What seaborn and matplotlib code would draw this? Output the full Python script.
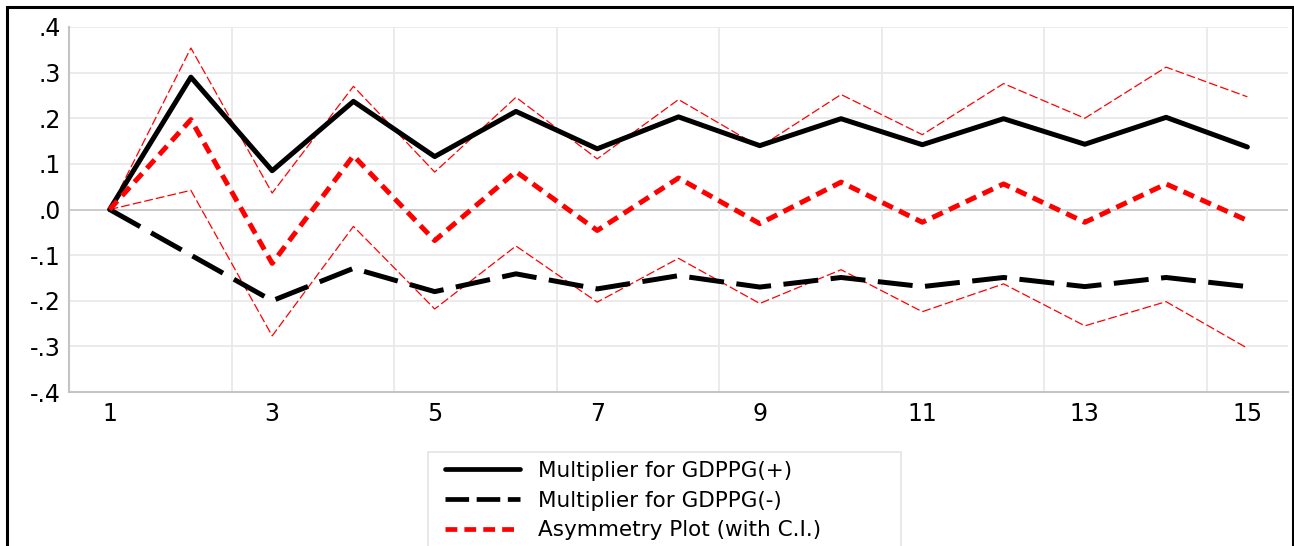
import matplotlib
matplotlib.use("Agg")
import matplotlib.pyplot as plt
import seaborn as sns
import pandas as pd
from matplotlib.patches import Rectangle
from matplotlib.lines import Line2D

periods = list(range(1, 16))
mult_pos = [0.0, 0.290, 0.085, 0.237, 0.116, 0.215, 0.133, 0.203, 0.140, 0.199, 0.142, 0.199, 0.143, 0.202, 0.137]
mult_neg = [0.0, -0.100, -0.200, -0.129, -0.180, -0.141, -0.174, -0.145, -0.170, -0.149, -0.169, -0.149, -0.169, -0.149, -0.169]
asym = [0.0, 0.197, -0.118, 0.118, -0.068, 0.083, -0.046, 0.069, -0.031, 0.060, -0.028, 0.056, -0.028, 0.056, -0.024]
ci_upper = [0.0, 0.354, 0.036, 0.270, 0.082, 0.246, 0.111, 0.241, 0.137, 0.252, 0.164, 0.276, 0.200, 0.312, 0.247]
ci_lower = [0.0, 0.042, -0.277, -0.037, -0.218, -0.080, -0.203, -0.107, -0.206, -0.132, -0.224, -0.163, -0.255, -0.202, -0.304]

legend_labels = ["Multiplier for GDPPG(+)", "Multiplier for GDPPG(-)", "Asymmetry Plot (with C.I.)"]
y_ticks = [-0.4, -0.3, -0.2, -0.1, 0.0, 0.1, 0.2, 0.3, 0.4]
y_tick_labels = ["-.4", "-.3", "-.2", "-.1", ".0", ".1", ".2", ".3", ".4"]
x_ticks = [1, 3, 5, 7, 9, 11, 13, 15]

sns.set_theme(style="white")
plt.rcParams['font.family'] = ['DejaVu Sans']

df = pd.DataFrame({"period": periods, "pos": mult_pos, "neg": mult_neg,
                   "asym": asym, "up": ci_upper, "lo": ci_lower})

fig = plt.figure(figsize=(12.94, 5.46), dpi=100)
ax = fig.add_axes([69/1294, 1-392/546, (1288-69)/1294, (392-27)/546])

# grid
for yv in y_ticks:
    ax.axhline(yv, color="#c4c4c4" if yv == 0 else "#e8e8e8", lw=1.2, zorder=0)
for xv in [2.5, 4.5, 6.5, 8.5, 10.5, 12.5, 14.5]:
    ax.axvline(xv, color="#e8e8e8", lw=1.2, zorder=0)

sns.lineplot(data=df, x="period", y="up", ax=ax, color="red", lw=0.9, zorder=2)
ax.lines[-1].set_dashes([7, 2.5])
sns.lineplot(data=df, x="period", y="lo", ax=ax, color="red", lw=0.9, zorder=2)
ax.lines[-1].set_dashes([7, 2.5])
sns.lineplot(data=df, x="period", y="pos", ax=ax, color="black", lw=3.6, zorder=3)
sns.lineplot(data=df, x="period", y="neg", ax=ax, color="black", lw=3.6, zorder=3)
ax.lines[-1].set_dashes([7, 2.5])
sns.lineplot(data=df, x="period", y="asym", ax=ax, color="red", lw=3.6, zorder=4)
ax.lines[-1].set_dashes([2.3, 1.4])

ax.set_xlim(0.5, 15.5)
ax.set_ylim(-0.4, 0.4)
ax.set_xticks(x_ticks)
ax.set_xticklabels([str(t) for t in x_ticks])
ax.set_yticks(y_ticks)
ax.set_yticklabels(y_tick_labels)
ax.set_xlabel("")
ax.set_ylabel("")
ax.tick_params(axis="both", length=0, labelsize=17, colors="black")
ax.tick_params(axis="x", pad=7)
ax.tick_params(axis="y", pad=6)
for s in ["top", "right"]:
    ax.spines[s].set_visible(False)
for s in ["left", "bottom"]:
    ax.spines[s].set_color("#c4c4c4")
    ax.spines[s].set_linewidth(1.5)

handles = [Line2D([], [], color="black", lw=3.4),
           Line2D([], [], color="black", lw=3.4, dashes=[5, 1.6]),
           Line2D([], [], color="red", lw=3.4, dashes=[2.5, 1.5])]
leg = fig.legend(handles, legend_labels, loc="upper left",
                 bbox_to_anchor=(445/1294, 1-461/546), fontsize=15.5,
                 frameon=False, handlelength=3.5,
                 handletextpad=0.8, labelspacing=0.45, borderpad=0.0,
                 borderaxespad=0.0)
for t in leg.get_texts():
    t.set_color("black")

fig.patches.append(Rectangle((428/1294, -0.1), (901-428)/1294, (546-452)/546+0.1,
                             transform=fig.transFigure, fill=False,
                             edgecolor="#e4e4e4", lw=1.2, clip_on=False))
fig.patches.append(Rectangle((7/1294, -0.1), 1286/1294, 1-7/546+0.1,
                             transform=fig.transFigure, fill=False,
                             edgecolor="black", lw=2.2, clip_on=False))

fig.savefig("out.png", dpi=100)
